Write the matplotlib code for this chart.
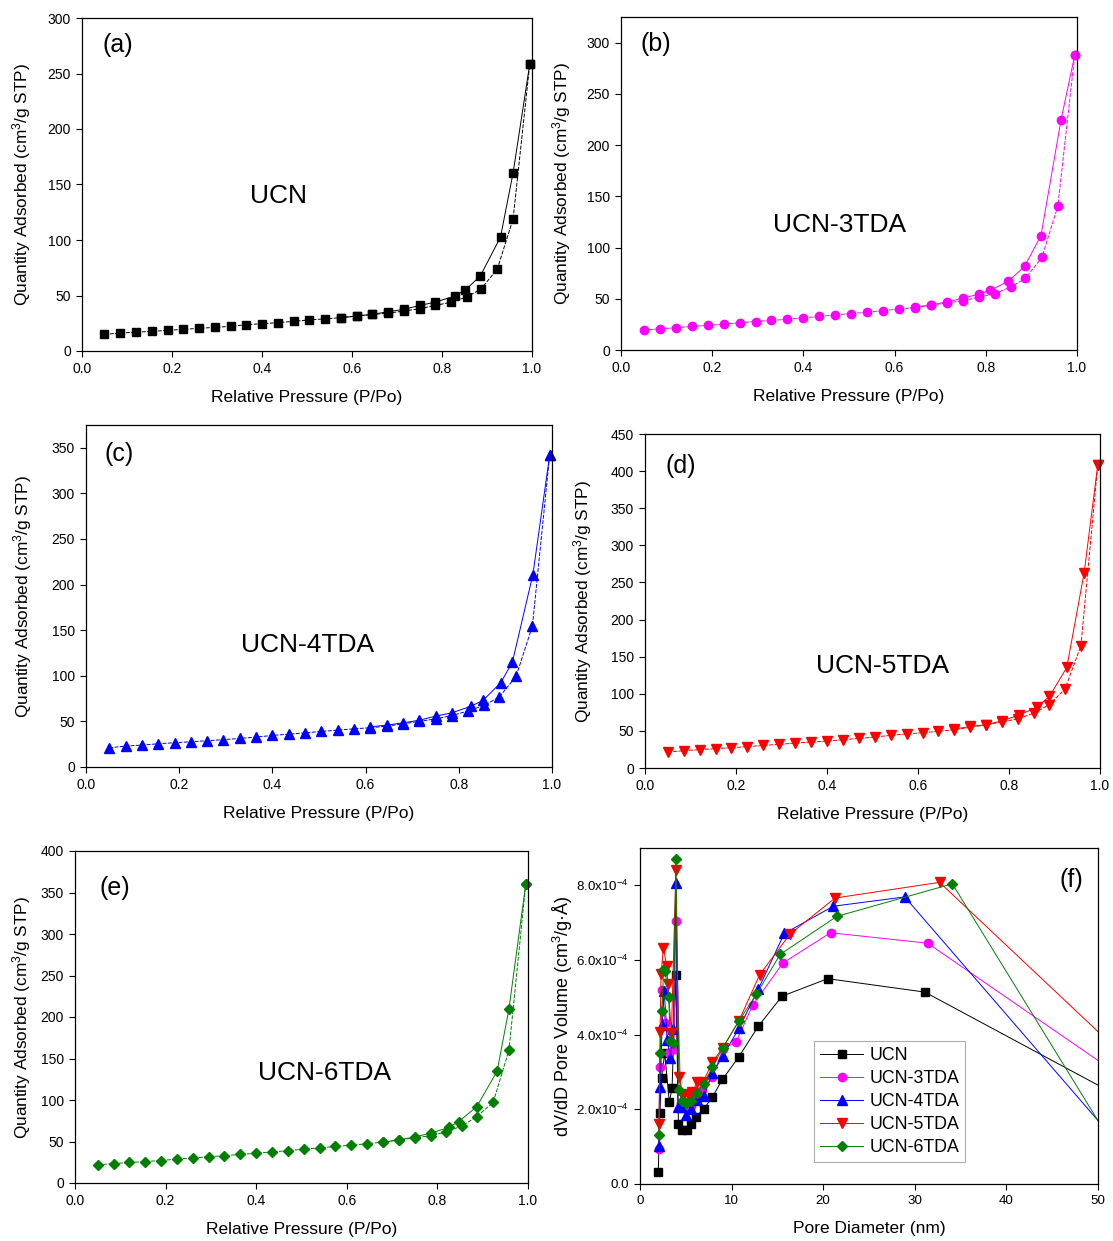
import matplotlib
matplotlib.use("Agg")
import matplotlib.pyplot as plt

plt.rcParams["font.family"] = ["Liberation Sans", "DejaVu Sans"]
plt.rcParams["mathtext.fontset"] = "custom"
plt.rcParams["mathtext.rm"] = "Liberation Sans"
plt.rcParams["mathtext.it"] = "Liberation Sans:italic"

# ---- isotherm data ----
p_ads = [0.05, 0.085, 0.12, 0.155, 0.19, 0.225, 0.26, 0.295, 0.33, 0.365, 0.40, 0.435,
         0.47, 0.505, 0.54, 0.575, 0.61, 0.645, 0.68, 0.715, 0.75, 0.785, 0.82, 0.855,
         0.887, 0.923, 0.958, 0.995]

ucn_ads = [15, 16.2, 17, 17.7, 18.6, 19.5, 20.4, 21.3, 22.2, 23.7, 24.6, 25.5, 26.7, 28,
           29, 30, 31.5, 33, 34, 36, 38, 41, 44, 48.6, 56, 74, 119, 258.6]
ucn_p_des = [0.995, 0.958, 0.93, 0.885, 0.852, 0.828, 0.785, 0.75, 0.715, 0.68, 0.645, 0.61, 0.575]
ucn_des = [258.6, 160.5, 102.6, 67.5, 55, 49.5, 44, 41, 37.5, 35.4, 33, 31.5, 30]

tda3_ads = [19.4, 20.7, 21.7, 23, 24, 25.2, 26.5, 27.8, 28.8, 30.1, 31.4, 32.7, 34.3, 35.6,
            36.9, 38.5, 40.1, 41.4, 43.7, 46, 48.2, 51.5, 55, 61.5, 70, 90.3, 140.5, 287.7]
tda3_p_des = [0.995, 0.965, 0.921, 0.885, 0.849, 0.81, 0.785, 0.75, 0.715, 0.68, 0.645]
tda3_des = [287.7, 224.6, 111.7, 81.6, 67, 58.3, 54.7, 50.5, 47, 44, 42]

tda4_ads = [21, 23, 24, 25.5, 26.6, 27.7, 28.8, 30, 31.3, 32.8, 34.6, 36, 37.5, 39, 40.4,
            41.9, 43, 44.8, 47.3, 50, 52.8, 56.4, 61.5, 67.7, 76.8, 99.4, 154.8, 342]
tda4_p_des = [0.995, 0.959, 0.915, 0.89, 0.852, 0.826, 0.785, 0.75, 0.715, 0.68, 0.645, 0.61]
tda4_des = [342, 211, 115, 92.5, 73, 66.6, 59.4, 55.7, 51.3, 48.4, 45.9, 44]

tda5_ads = [21.5, 23.3, 24.7, 26, 27.4, 28.7, 30.5, 31.9, 33.6, 35, 36.3, 38.1, 39.9, 41.7,
            44, 45.8, 47.6, 49.3, 51.6, 54.7, 58.3, 61.9, 66.4, 74, 84.8, 106.3, 164.6, 408]
tda5_p_des = [0.995, 0.965, 0.927, 0.889, 0.861, 0.821, 0.785, 0.75, 0.715, 0.68]
tda5_des = [408, 262.4, 135.5, 96.5, 82, 71, 63.7, 58.3, 56, 52.5]

tda6_ads = [21.8, 23.4, 24.7, 25.9, 27.1, 28.8, 30, 31.7, 32.9, 34.5, 35.8, 37.4, 39, 40.7,
            42.3, 44, 45.6, 47.3, 49.3, 51.8, 54.3, 57.1, 61.7, 69, 80, 97, 160, 360]
tda6_p_des = [0.995, 0.958, 0.932, 0.887, 0.847, 0.825, 0.785, 0.75, 0.715, 0.68]
tda6_des = [360, 210, 135, 92, 74, 67, 60, 55.5, 52, 49]

# ---- pore size distribution (dV/dD in 1e-4 cm3/g.A) ----
ucn_d = [2.0, 2.15, 2.35, 2.7, 3.2, 3.5, 3.9, 4.2, 4.6, 5.1, 5.6, 6.1, 7.0, 7.9, 9.0,
         10.8, 12.9, 15.5, 20.5, 31.1, 60]
ucn_v = [0.33, 1.9, 2.85, 3.5, 2.2, 2.56, 5.6, 1.6, 1.45, 1.45, 1.6, 1.8, 2.02, 2.33, 2.8,
         3.41, 4.22, 5.03, 5.5, 5.14, 1.33]

tda3_d = [2.03, 2.19, 2.45, 2.75, 3.2, 3.69, 3.92, 4.45, 5.0, 5.6, 6.2, 6.8, 7.9, 9.04,
          10.5, 12.3, 15.6, 20.8, 31.4, 60]
tda3_v = [0.95, 3.14, 5.19, 4.3, 3.5, 3.62, 7.05, 2.18, 2.05, 2.1, 2.3, 2.52, 2.87, 3.61,
          3.81, 4.79, 5.92, 6.73, 6.45, 1.62]

tda4_d = [2.07, 2.22, 2.41, 2.64, 3.0, 3.32, 3.62, 3.92, 4.14, 4.52, 5.05, 5.58, 6.22,
          6.97, 7.91, 9.04, 10.8, 12.9, 15.75, 21.1, 28.9, 55]
tda4_v = [1.02, 2.61, 4.25, 5.17, 3.85, 3.38, 4.16, 8.06, 2.07, 2.05, 1.84, 2.02, 2.25,
          2.36, 2.96, 3.43, 4.17, 5.21, 6.71, 7.44, 7.69, 0.28]

tda5_d = [2.07, 2.19, 2.3, 2.56, 2.9, 3.05, 3.43, 3.92, 4.26, 4.71, 5.28, 5.73, 6.22, 6.9,
          7.91, 9.04, 10.8, 13.07, 16.4, 21.3, 32.7, 60]
tda5_v = [1.6, 4.08, 5.63, 6.33, 5.85, 5.37, 4.04, 8.42, 2.87, 2.36, 2.4, 2.47, 2.72, 2.74,
          3.27, 3.65, 4.37, 5.61, 6.7, 7.66, 8.08, 1.77]

tda6_d = [2.07, 2.19, 2.41, 2.56, 2.75, 3.13, 3.32, 3.62, 3.92, 4.26, 4.6, 5.01, 5.61, 6.18,
          6.97, 7.91, 9.04, 10.8, 12.7, 15.3, 21.5, 34.1, 54]
tda6_v = [1.31, 3.5, 4.63, 5.73, 5.7, 5.0, 3.83, 3.77, 8.7, 2.52, 2.23, 2.16, 2.23, 2.43,
          2.69, 3.14, 3.65, 4.37, 5.08, 6.15, 7.17, 8.04, 0.10]

W, H = 1113, 1241
fig = plt.figure(figsize=(W / 100, H / 100), dpi=100)


def add_ax(l, t, r, b):
    return fig.add_axes([l / W, 1 - b / H, (r - l) / W, (b - t) / H])


def style(ax, labelsize=10):
    ax.tick_params(direction="out", length=4.5, width=0.8, labelsize=labelsize, top=False, right=False)
    for s in ax.spines.values():
        s.set_linewidth(0.9)


def place_ylabel(ax, box, xc):
    # put the y label centre at pixel column xc
    l, t, r, b = box
    ax.yaxis.set_label_coords((xc - l) / (r - l), 0.5)
    ax.yaxis.label.set_verticalalignment("center")


panels = [
    # (box, ylim, yticks, ads, p_des, des, color, marker, ms, letter, letter_pos, name, name_pos, ylabel_x)
    ((82, 18, 532, 351), 300, range(0, 301, 50), ucn_ads, ucn_p_des, ucn_des, "black", "s", 5.5,
     "(a)", (0.045, 0.92), "UCN", (0.436, 0.465), 22),
    ((621, 17, 1077, 350), 325, range(0, 301, 50), tda3_ads, tda3_p_des, tda3_des, "#ff00ff", "o", 6,
     "(b)", (0.042, 0.918), "UCN-3TDA", (0.48, 0.375), 562),
    ((86, 425, 552, 767), 375, range(0, 351, 50), tda4_ads, tda4_p_des, tda4_des, "#0000ff", "^", 6.5,
     "(c)", (0.039, 0.915), "UCN-4TDA", (0.476, 0.357), 23),
    ((645, 434, 1100, 768), 450, range(0, 451, 50), tda5_ads, tda5_p_des, tda5_des, "#ff0000", "v", 6.5,
     "(d)", (0.046, 0.904), "UCN-5TDA", (0.523, 0.305), 583),
    ((75, 851, 528, 1183), 400, range(0, 401, 50), tda6_ads, tda6_p_des, tda6_des, "#008000", "D", 5,
     "(e)", (0.055, 0.888), "UCN-6TDA", (0.552, 0.331), 22),
]

for box, ymax, yt, ads, pdes, des, col, mk, ms, letter, lpos, name, npos, ylx in panels:
    ax = add_ax(*box)
    ax.plot(p_ads, ads, color=col, marker=mk, markersize=ms, linewidth=0.7,
            linestyle=(0, (4, 1.5)), clip_on=False)
    ax.plot(pdes, des, color=col, marker=mk, markersize=ms, linewidth=0.7, clip_on=False)
    ax.set_xlim(0, 1.0)
    ax.set_ylim(0, ymax)
    ax.set_xticks([0.0, 0.2, 0.4, 0.6, 0.8, 1.0])
    ax.set_yticks(list(yt))
    ax.set_xlabel("Relative Pressure (P/Po)", fontsize=12.5, labelpad=10)
    ax.set_ylabel("Quantity Adsorbed (cm$^3$/g STP)", fontsize=12.4)
    place_ylabel(ax, box, ylx)
    style(ax)
    ax.text(lpos[0], lpos[1], letter, transform=ax.transAxes, fontsize=18, va="center", ha="left")
    ax.text(npos[0], npos[1], name, transform=ax.transAxes, fontsize=19, va="center", ha="center")

# ---- panel (f) ----
fbox = (640, 848, 1098, 1184)
axf = add_ax(*fbox)
psd = [
    (ucn_d, ucn_v, "black", "s", 5.5, "UCN"),
    (tda3_d, tda3_v, "#ff00ff", "o", 6, "UCN-3TDA"),
    (tda4_d, tda4_v, "#0000ff", "^", 6.5, "UCN-4TDA"),
    (tda5_d, tda5_v, "#ff0000", "v", 6.5, "UCN-5TDA"),
    (tda6_d, tda6_v, "#008000", "D", 5, "UCN-6TDA"),
]
for d, v, col, mk, ms, lab in psd:
    axf.plot(d, [x * 1e-4 for x in v], color=col, marker=mk, markersize=ms,
             linewidth=0.7, label=lab)
axf.set_xlim(0, 50)
axf.set_ylim(0, 9.0e-4)
axf.set_xticks([0, 10, 20, 30, 40, 50])
axf.set_yticks([0, 2e-4, 4e-4, 6e-4, 8e-4])
axf.set_yticklabels(["0.0", "2.0x10$^{-4}$", "4.0x10$^{-4}$", "6.0x10$^{-4}$", "8.0x10$^{-4}$"])
axf.set_xlabel("Pore Diameter (nm)", fontsize=12.5, labelpad=10)
axf.set_ylabel("dV/dD Pore Volume (cm$^3$/g·Å)", fontsize=13)
place_ylabel(axf, fbox, 563)
style(axf, labelsize=9.6)
axf.text(0.967, 0.905, "(f)", transform=axf.transAxes, fontsize=18, va="center", ha="right")
leg = axf.legend(loc="lower left", bbox_to_anchor=(0.38, 0.065), fontsize=12.8,
                 frameon=True, fancybox=False, handlelength=2.4, labelspacing=0.33,
                 borderpad=0.35, handletextpad=0.35, borderaxespad=0)
leg.get_frame().set_edgecolor("#999999")
leg.get_frame().set_linewidth(0.8)

fig.savefig("out.png", dpi=100)
